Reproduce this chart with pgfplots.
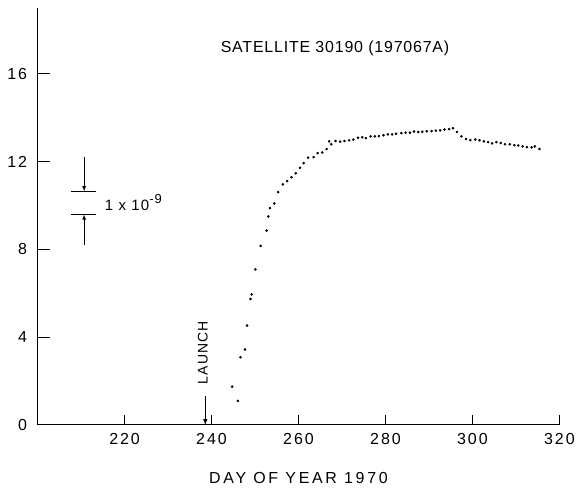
\documentclass[border=0pt]{standalone}
\usepackage{fontspec}
\setmainfont{Liberation Sans}[LetterSpace=12.5]
\usepackage{pgfplots}
\usepackage{pgfplotstable}
\pgfplotsset{compat=1.18}
\pgfplotstableread{
d v
244.74 1.75
246.05 1.10
246.66 3.09
247.71 3.44
248.17 4.53
248.95 5.74
249.24 5.95
250.09 7.09
251.30 8.16
252.67 8.86
253.06 9.50
253.42 9.88
254.43 10.09
255.34 10.61
256.40 10.96
257.40 11.11
258.38 11.29
259.37 11.47
260.37 11.72
261.19 11.93
262.20 12.18
263.48 12.21
264.39 12.39
265.46 12.42
266.45 12.57
267.06 12.92
267.52 12.79
268.50 12.94
269.58 12.91
270.56 12.94
271.63 12.97
272.62 13.00
273.69 13.09
274.67 13.11
275.52 13.07
276.59 13.15
277.57 13.15
278.49 13.16
279.56 13.20
280.54 13.24
281.53 13.24
282.44 13.27
283.67 13.30
284.66 13.32
285.64 13.32
286.56 13.37
287.56 13.35
288.47 13.36
289.50 13.38
290.60 13.39
291.58 13.41
292.58 13.42
293.57 13.46
294.64 13.48
295.55 13.52
296.47 13.35
297.45 13.15
298.53 13.03
299.51 12.98
300.65 13.01
301.63 12.97
302.64 12.92
303.62 12.89
304.53 12.83
305.52 12.89
306.52 12.85
307.50 12.79
308.58 12.79
309.63 12.75
310.54 12.73
311.55 12.69
312.53 12.66
313.61 12.65
314.36 12.69
315.43 12.57
}\satdata
\begin{document}
\begin{tikzpicture}
\begin{axis}[
  scale only axis, width=523pt, height=418pt,
  xmin=200, xmax=320, ymin=0, ymax=19,
  axis x line*=bottom, axis y line*=left,
  axis line style={line width=1pt},
  xtick={220,240,...,320}, ytick={0,4,...,16},
  tick align=inside,
  major tick length=10pt,
  tick style={draw=black, line width=1pt},
  ticklabel style={font=\fontsize{16}{19}\selectfont},
  /pgf/number format/assume math mode=true,
  /pgf/number format/1000 sep={},
  xticklabel style={yshift=-5pt},
  yticklabel style={xshift=-7pt},
  xlabel={\addfontfeature{LetterSpace=17}DAY OF YEAR 1970},
  every axis x label/.style={at={(axis description cs:0.5,0)},anchor=center,yshift=-53pt,font=\fontsize{16}{19}\selectfont},
  clip=false,
]
\addplot[only marks, mark=*, mark size=1.1pt, black] table[x=d,y=v] {\satdata};
\coordinate (x220) at (axis cs:220,0);
\coordinate (x240) at (axis cs:240,0);
\coordinate (x260) at (axis cs:260,0);
\coordinate (x280) at (axis cs:280,0);
\coordinate (x300) at (axis cs:300,0);
\coordinate (x320) at (axis cs:320,0);
\coordinate (y4) at (axis cs:200,4);
\coordinate (y8) at (axis cs:200,8);
\coordinate (y12) at (axis cs:200,12);
\coordinate (y16) at (axis cs:200,16);
\node[font=\fontsize{16}{19}\selectfont] at (axis cs:268.4,17.15) {\addfontfeature{LetterSpace=5}SATELLITE 30190 (197067A)};
% launch
\node[rotate=90, font=\fontsize{14}{16}\selectfont] at (axis cs:238.0,3.29) {\addfontfeature{LetterSpace=8}LAUNCH};
\draw[line width=1pt, -latex] (axis cs:238.57,1.34) -- (axis cs:238.57,0);
% scale bar
\draw[line width=1pt] (axis cs:207.73,10.65) -- (axis cs:213.44,10.65);
\draw[line width=1pt] (axis cs:207.73,9.59) -- (axis cs:213.44,9.59);
\draw[line width=0.8pt, -latex] (axis cs:210.7,12.19) -- (axis cs:210.7,10.65);
\draw[line width=0.8pt, -latex] (axis cs:210.7,8.19) -- (axis cs:210.7,9.59);
\node[anchor=base west, inner sep=0pt, font=\fontsize{15}{18}\selectfont] at (axis cs:215.43,9.77) {\addfontfeature{LetterSpace=8}1 x 10\raisebox{7pt}{\fontsize{13}{13}\selectfont -9}};
\end{axis}
% tick marks
\foreach \c in {x220,x240,x260,x280,x300,x320}{\draw[line width=1.2pt] (\c) -- ++(0,9pt);}
\foreach \c in {y4,y8,y12,y16}{\draw[line width=1.2pt] (\c) -- ++(12pt,0);}
\path ([xshift=-37.7pt,yshift=-65pt]current axis.south west) rectangle ([xshift=17.3pt,yshift=8pt]current axis.north east);
\end{tikzpicture}
\end{document}
